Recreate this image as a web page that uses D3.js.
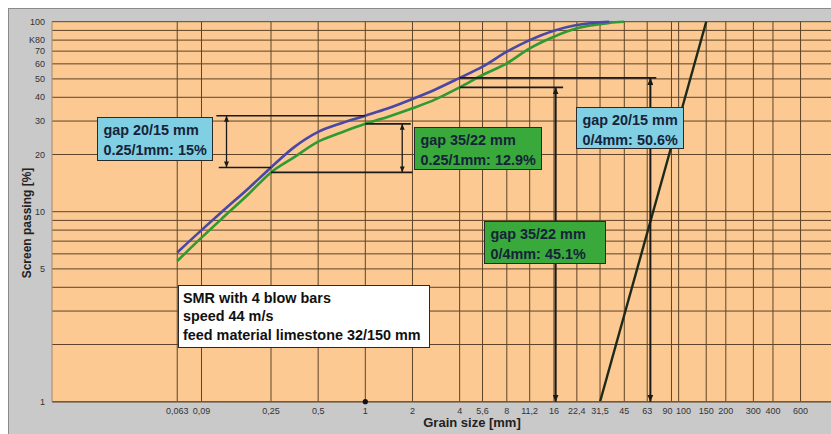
<!DOCTYPE html>
<html>
<head>
<meta charset="utf-8">
<script src="https://cdn.jsdelivr.net/npm/d3@7"></script>
<style>
  body { margin: 0; background: #fff; }
  svg { display: block; }
  text { font-family: "Liberation Sans", Arial, sans-serif; }
</style>
</head>
<body>
<svg id="chart" width="831" height="434"></svg>
<script>
// grain sizes [mm]
var grain = [0.063, 0.09, 0.125, 0.18, 0.25, 0.35, 0.5, 0.71, 1, 1.4, 2, 2.8, 4, 5.6, 8, 11.2, 16, 22.4, 31.5, 36, 45];
// screen passing [%] for the two rotor gap settings
var gap2015 = [6.1, 8.0, 10.2, 13.3, 17.1, 21.8, 26.3, 29.3, 32.0, 35.0, 39.2, 44.0, 50.6, 58.0, 69.5, 80.0, 89.7, 96.0, 99.4, 100, null];
var gap3522 = [5.5, 7.3, 9.4, 12.4, 16.1, 19.3, 23.4, 26.2, 29.0, 31.6, 35.0, 39.0, 45.1, 52.4, 60.4, 72.4, 83.4, 92.3, 97.0, 98.6, 100];
// feed material 32/150 mm
var feedGrain = [31.5, 150];
var feedPass = [1, 100];

var xTicks = [0.063, 0.09, 0.25, 0.5, 1, 2, 4, 5.6, 8, 11.2, 16, 22.4, 31.5, 45, 63, 90, 100, 150, 200, 300, 400, 600];
var xTickLabels = ["0,063", "0,09", "0,25", "0,5", "1", "2", "4", "5,6", "8", "11,2", "16", "22,4", "31,5", "45", "63", "90", "100", "150", "200", "300", "400", "600"];
var yGrid = [1, 2, 3, 4, 5, 6, 7, 8, 9, 10, 20, 30, 40, 50, 60, 70, 80, 90, 100];
var yTicks = [1, 5, 10, 20, 30, 40, 50, 60, 70, 80, 100];
var yTickLabels = ["1", "5", "10", "20", "30", "40", "50", "60", "70", "K80", "100"];

var noteText = [
  ["gap 20/15 mm", "0.25/1mm: 15%"],
  ["gap 35/22 mm", "0.25/1mm: 12.9%"],
  ["gap 20/15 mm", "0/4mm: 50.6%"],
  ["gap 35/22 mm", "0/4mm: 45.1%"],
  ["SMR with 4 blow bars", "speed 44 m/s", "feed material limestone 32/150 mm"]
];

(function() {
  var svg = d3.select("#chart");
  var plotLeft = 52, plotRight = 835.3, plotTop = 21.7, plotBottom = 401.7;

  var x = d3.scaleLog().domain([0.01, 1000]).range([plotLeft, plotRight]);
  var y = d3.scaleLog().domain([1, 100]).range([plotBottom, plotTop]);

  var gridColor = "#5e4428";

  // grey panel
  svg.append("rect")
    .attr("x", 8.5).attr("y", 8.5)
    .attr("width", 840).attr("height", 440)
    .attr("fill", "#c9c9c9")
    .attr("stroke", "#8a8a8a");

  // plot area
  svg.append("rect")
    .attr("x", plotLeft).attr("y", plotTop)
    .attr("width", plotRight - plotLeft).attr("height", plotBottom - plotTop)
    .attr("fill", "#fbc991");

  var defs = svg.append("defs");
  defs.append("clipPath").attr("id", "plotclip")
    .append("rect")
    .attr("x", plotLeft).attr("y", plotTop - 2)
    .attr("width", plotRight - plotLeft).attr("height", plotBottom - plotTop + 4);

  function addMarker(id, w, h) {
    defs.append("marker")
      .attr("id", id)
      .attr("viewBox", "0 0 " + w + " " + h)
      .attr("refX", w).attr("refY", h / 2)
      .attr("markerWidth", w).attr("markerHeight", h)
      .attr("markerUnits", "userSpaceOnUse")
      .attr("orient", "auto-start-reverse")
      .append("path")
      .attr("d", "M0,0L" + w + "," + (h / 2) + "L0," + h + "Z")
      .attr("fill", "#1a1a1a");
  }
  addMarker("arrSmall", 6, 5);
  addMarker("arrBig", 7, 6);

  var g = svg.append("g").attr("clip-path", "url(#plotclip)");

  // horizontal grid
  g.selectAll(".hgrid")
    .data(yGrid)
    .enter().append("line")
    .attr("class", "hgrid")
    .attr("x1", plotLeft).attr("x2", plotRight)
    .attr("y1", function(d) { return y(d); })
    .attr("y2", function(d) { return y(d); })
    .attr("stroke", gridColor)
    .attr("stroke-width", 1);

  // vertical grid
  g.selectAll(".vgrid")
    .data(xTicks)
    .enter().append("line")
    .attr("class", "vgrid")
    .attr("x1", function(d) { return x(d); })
    .attr("x2", function(d) { return x(d); })
    .attr("y1", plotTop).attr("y2", plotBottom)
    .attr("stroke", gridColor)
    .attr("stroke-width", 1);

  // bottom axis line and left edge
  svg.append("line")
    .attr("x1", plotLeft).attr("x2", plotRight)
    .attr("y1", plotBottom).attr("y2", plotBottom)
    .attr("stroke", "#6d5a44").attr("stroke-width", 1.5);
  svg.append("line")
    .attr("x1", plotLeft).attr("x2", plotLeft)
    .attr("y1", plotTop).attr("y2", plotBottom)
    .attr("stroke", "#a08a6e").attr("stroke-width", 1);

  // tick labels (90 and 100 are pushed apart a little, as in the print)
  var labelShift = { 90: -4, 100: 5 };
  svg.selectAll(".xlab")
    .data(xTicks)
    .enter().append("text")
    .attr("class", "xlab")
    .attr("x", function(d) { return x(d) + (labelShift[d] || 0); })
    .attr("y", 414)
    .attr("text-anchor", "middle")
    .attr("font-size", "9px")
    .attr("fill", "#333")
    .text(function(d, i) { return xTickLabels[i]; });

  svg.selectAll(".ylab")
    .data(yTicks)
    .enter().append("text")
    .attr("class", "ylab")
    .attr("x", 45)
    .attr("y", function(d) { return y(d); })
    .attr("dy", "0.35em")
    .attr("text-anchor", "end")
    .attr("font-size", "9px")
    .attr("fill", "#333")
    .text(function(d, i) { return yTickLabels[i]; });

  // axis titles
  svg.append("text")
    .attr("transform", "translate(31,223)rotate(-90)")
    .attr("text-anchor", "middle")
    .attr("font-size", "12px")
    .attr("font-weight", "bold")
    .attr("fill", "#222")
    .text("Screen passing [%]");

  svg.append("text")
    .attr("x", 472).attr("y", 427)
    .attr("text-anchor", "middle")
    .attr("font-size", "13px")
    .attr("font-weight", "bold")
    .attr("fill", "#222")
    .text("Grain size [mm]");

  // curves
  var line = d3.line()
    .defined(function(d) { return d[1] != null; })
    .x(function(d) { return x(d[0]); })
    .y(function(d) { return y(d[1]); })
    .curve(d3.curveMonotoneX);

  g.append("path")
    .datum(grain.map(function(d, i) { return [d, gap3522[i]]; }))
    .attr("d", line)
    .attr("fill", "none")
    .attr("stroke", "#2f9a32")
    .attr("stroke-width", 2.6);

  g.append("path")
    .datum(grain.map(function(d, i) { return [d, gap2015[i]]; }))
    .attr("d", line)
    .attr("fill", "none")
    .attr("stroke", "#4a48a6")
    .attr("stroke-width", 2.6);

  g.append("path")
    .datum(feedGrain.map(function(d, i) { return [d, feedPass[i]]; }))
    .attr("d", d3.line().x(function(d) { return x(d[0]); }).y(function(d) { return y(d[1]); }))
    .attr("fill", "none")
    .attr("stroke", "#1d2a1a")
    .attr("stroke-width", 2.4);

  // reading lines: [from mm, to mm, percent]
  var hLines = [
    [0.112, 1.0, 32.0],
    [0.116, 0.25, 17.1],
    [1.0, 1.95, 29.0],
    [0.25, 2.0, 16.1],
    [4, 18.3, 45.1],
    [4, 72, 50.6]
  ];
  g.selectAll(".hl")
    .data(hLines)
    .enter().append("line")
    .attr("class", "hl")
    .attr("x1", function(d) { return x(d[0]); })
    .attr("x2", function(d) { return x(d[1]); })
    .attr("y1", function(d) { return y(d[2]); })
    .attr("y2", function(d) { return y(d[2]); })
    .attr("stroke", "#1a1a1a")
    .attr("stroke-width", 1.6);

  // double arrows: [mm, from %, to %, big]
  var arrows = [
    [0.13, 17.1, 32.0, false],
    [1.72, 16.1, 29.0, false],
    [16.4, 1, 45.1, true],
    [66, 1, 50.6, true]
  ];
  svg.selectAll(".arr")
    .data(arrows)
    .enter().append("line")
    .attr("class", "arr")
    .attr("x1", function(d) { return x(d[0]); })
    .attr("x2", function(d) { return x(d[0]); })
    .attr("y1", function(d) { return y(d[1]); })
    .attr("y2", function(d) { return y(d[2]); })
    .attr("stroke", "#1a1a1a")
    .attr("stroke-width", function(d) { return d[3] ? 2 : 1.3; })
    .attr("marker-start", function(d) { return d[3] ? "url(#arrBig)" : "url(#arrSmall)"; })
    .attr("marker-end", function(d) { return d[3] ? "url(#arrBig)" : "url(#arrSmall)"; });

  // marker dot at 1 mm
  svg.append("circle")
    .attr("cx", x(1)).attr("cy", y(1))
    .attr("r", 2.6)
    .attr("fill", "#111");

  // note boxes, anchored at grain size / percent of their top left corner
  var noteLayout = [
    { gx: 0.0194, py: 31.5, w: 115, h: 43, fill: "#80cfe2" },
    { gx: 2.05, py: 27.9, w: 127, h: 42, fill: "#38a93a" },
    { gx: 22.1, py: 35.6, w: 107, h: 41, fill: "#80cfe2" },
    { gx: 5.73, py: 8.94, w: 121, h: 42, fill: "#38a93a" },
    { gx: 0.0639, py: 4.11, w: 251, h: 62, fill: "#ffffff" }
  ];

  var notes = svg.selectAll(".note")
    .data(noteLayout)
    .enter().append("g")
    .attr("class", "note")
    .attr("transform", function(d) {
      return "translate(" + Math.round(x(d.gx)) + "," + Math.round(y(d.py)) + ")";
    });

  notes.append("rect")
    .attr("x", 0.5).attr("y", 0.5)
    .attr("width", function(d) { return d.w; })
    .attr("height", function(d) { return d.h; })
    .attr("fill", function(d) { return d.fill; })
    .attr("stroke", "#2a2a2a")
    .attr("stroke-width", 1);

  notes.each(function(d, i) {
    var step = noteText[i].length > 2 ? 18.5 : 20.5;
    d3.select(this).selectAll("text")
      .data(noteText[i])
      .enter().append("text")
      .attr("x", i == 4 ? 5 : 6.5)
      .attr("y", function(t, j) { return 17.5 + j * step; })
      .attr("font-size", "14.4px")
      .attr("font-weight", "bold")
      .attr("fill", i == 4 ? "#111" : "#17233a")
      .text(function(t) { return t; });
  });
})();
</script>
</body>
</html>
